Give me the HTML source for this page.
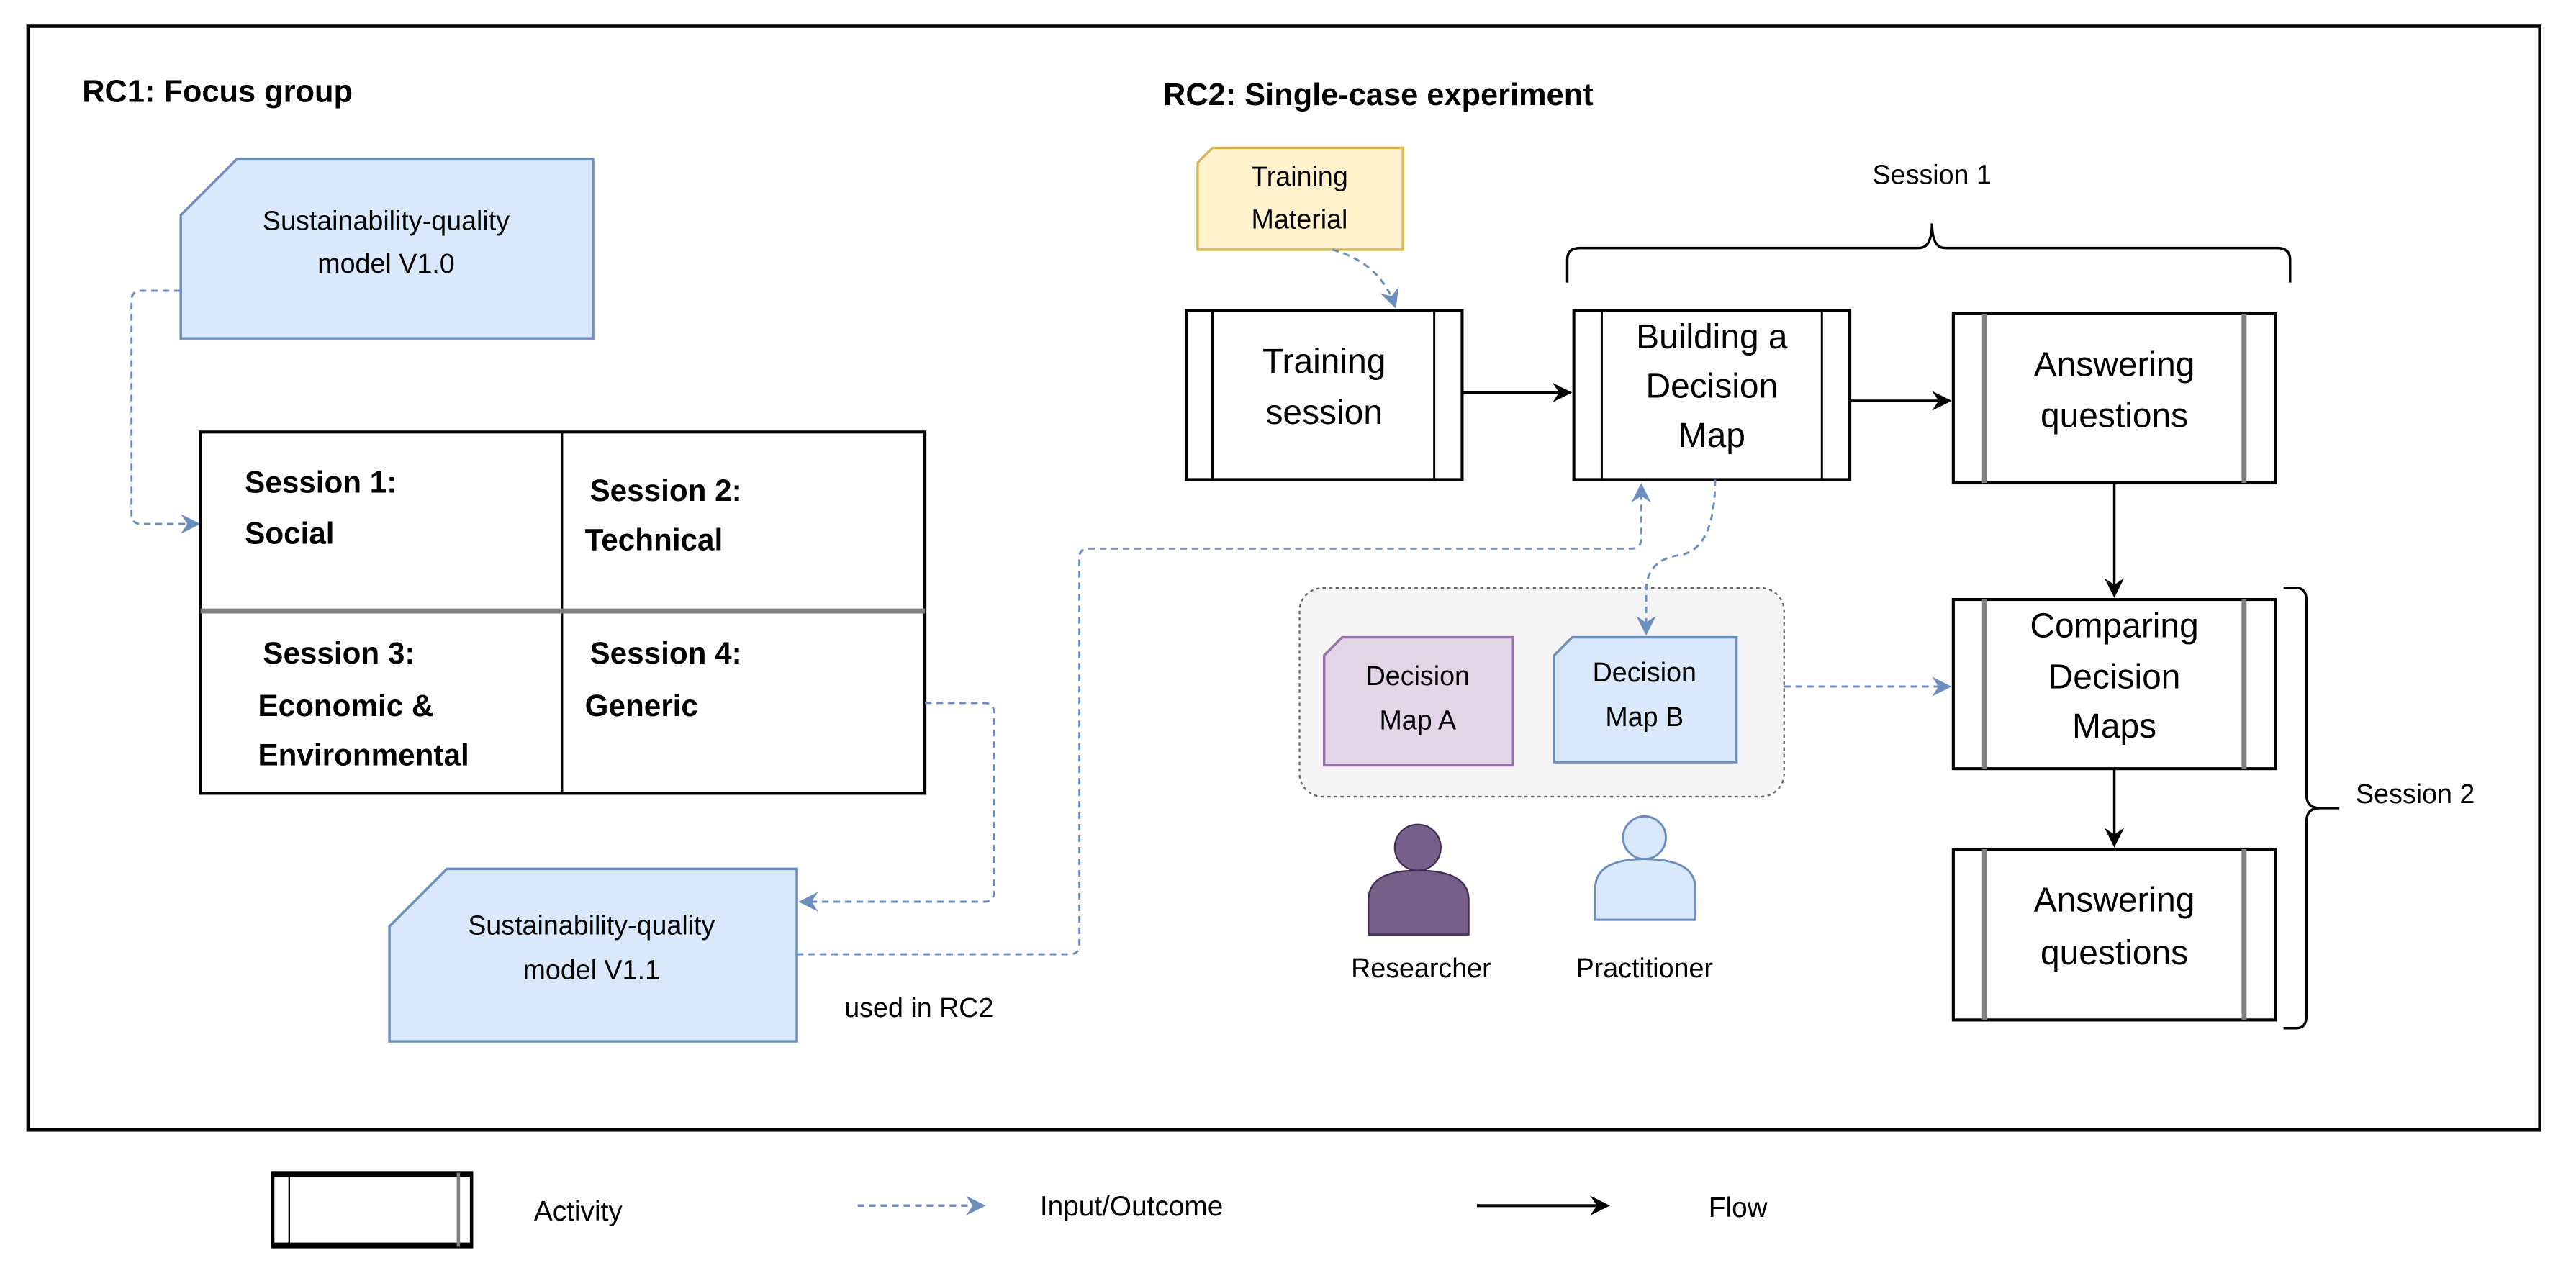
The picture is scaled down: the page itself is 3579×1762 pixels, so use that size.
<!DOCTYPE html>
<html><head><meta charset="utf-8"><style>html,body{margin:0;padding:0;background:#fff}svg{display:block}</style></head><body>
<svg width="3579" height="1762" viewBox="0 0 1568 772" xmlns="http://www.w3.org/2000/svg" font-family="'Liberation Sans', Arial, sans-serif">
<defs>
<marker id="ab" markerWidth="12" markerHeight="12" refX="10" refY="6" orient="auto" markerUnits="userSpaceOnUse"><path d="M0,0 L12,6 L0,12 L4,6 Z" fill="#6c8ebf"/></marker>
<marker id="ak" markerWidth="12" markerHeight="12" refX="10" refY="6" orient="auto" markerUnits="userSpaceOnUse"><path d="M0,0 L12,6 L0,12 L4,6 Z" fill="#000"/></marker>
</defs>
<rect x="0" y="0" width="1568" height="772" fill="#fff"/>
<rect x="17" y="16" width="1529" height="672" fill="none" stroke="#000" stroke-width="2"/>

<text x="50" y="62" font-size="19" font-weight="bold">RC1: Focus group</text>
<text x="708" y="64" font-size="19" font-weight="bold">RC2: Single-case experiment</text>

<path d="M144,97 L361,97 L361,206 L110,206 L110,131 Z" fill="#dae8fc" stroke="#6c8ebf" stroke-width="1.5"/>
<text x="235" y="140" font-size="16.5" text-anchor="middle">Sustainability-quality</text>
<text x="235" y="166" font-size="16.5" text-anchor="middle">model V1.0</text>
<path d="M110,177 L86,177 Q80,177 80,183 L80,313 Q80,319 86,319 L120,319" fill="none" stroke="#6c8ebf" stroke-width="1.3" stroke-dasharray="4,3" marker-end="url(#ab)"/>

<rect x="122" y="263" width="441" height="220" fill="#fff" stroke="#000" stroke-width="1.8"/>
<line x1="342" y1="263" x2="342" y2="483" stroke="#000" stroke-width="1.5"/>
<line x1="122" y1="372" x2="563" y2="372" stroke="#808080" stroke-width="3"/>
<g font-size="18.5" font-weight="bold">
<text x="149" y="300">Session 1:</text><text x="149" y="331">Social</text>
<text x="359" y="305">Session 2:</text><text x="356" y="335">Technical</text>
<text x="160" y="404">Session 3:</text><text x="157" y="436">Economic &amp;</text><text x="157" y="466">Environmental</text>
<text x="359" y="404">Session 4:</text><text x="356" y="436">Generic</text>
</g>
<path d="M563,428 L599,428 Q605,428 605,434 L605,543 Q605,549 599,549 L488,549" fill="none" stroke="#6c8ebf" stroke-width="1.3" stroke-dasharray="4,3" marker-end="url(#ab)"/>

<path d="M272,529 L485,529 L485,634 L237,634 L237,564 Z" fill="#dae8fc" stroke="#6c8ebf" stroke-width="1.5"/>
<text x="360" y="569" font-size="16.5" text-anchor="middle">Sustainability-quality</text>
<text x="360" y="596" font-size="16.5" text-anchor="middle">model V1.1</text>
<text x="514" y="619" font-size="16.5">used in RC2</text>
<path d="M485,581 L651,581 Q657,581 657,575 L657,339 Q657,334 663,334 L993,334 Q999,334 999,328 L999,296" fill="none" stroke="#6c8ebf" stroke-width="1.3" stroke-dasharray="4,3" marker-end="url(#ab)"/>

<path d="M738,90 L854,90 L854,152 L729,152 L729,99 Z" fill="#fff2cc" stroke="#d6b656" stroke-width="1.5"/>
<text x="791" y="113" font-size="16.5" text-anchor="middle">Training</text>
<text x="791" y="139" font-size="16.5" text-anchor="middle">Material</text>
<path d="M811,152 Q840,160 849,186" fill="none" stroke="#6c8ebf" stroke-width="1.3" stroke-dasharray="4,3" marker-end="url(#ab)"/>

<g fill="#fff" stroke="#000" stroke-width="1.8">
<rect x="722" y="189" width="168" height="103"/>
<rect x="958" y="189" width="168" height="103"/>
<rect x="1189" y="191" width="196" height="103"/>
<rect x="1189" y="365" width="196" height="103"/>
<rect x="1189" y="517" width="196" height="104"/>
</g>
<g stroke="#000" stroke-width="1.3">
<line x1="738" y1="189" x2="738" y2="292"/><line x1="873" y1="189" x2="873" y2="292"/>
<line x1="975" y1="189" x2="975" y2="292"/><line x1="1109" y1="189" x2="1109" y2="292"/>
</g>
<g stroke="#808080" stroke-width="3">
<line x1="1208" y1="191" x2="1208" y2="294"/><line x1="1366" y1="191" x2="1366" y2="294"/>
<line x1="1208" y1="365" x2="1208" y2="468"/><line x1="1366" y1="365" x2="1366" y2="468"/>
<line x1="1208" y1="517" x2="1208" y2="621"/><line x1="1366" y1="517" x2="1366" y2="621"/>
</g>
<g font-size="21" text-anchor="middle">
<text x="806" y="227">Training</text><text x="806" y="258">session</text>
<text x="1042" y="212">Building a</text><text x="1042" y="242">Decision</text><text x="1042" y="272">Map</text>
<text x="1287" y="229">Answering</text><text x="1287" y="260">questions</text>
<text x="1287" y="388">Comparing</text><text x="1287" y="419">Decision</text><text x="1287" y="449">Maps</text>
<text x="1287" y="555">Answering</text><text x="1287" y="587">questions</text>
</g>
<g stroke="#000" stroke-width="1.5" fill="none">
<line x1="890" y1="239" x2="955" y2="239" marker-end="url(#ak)"/>
<line x1="1126" y1="244" x2="1186" y2="244" marker-end="url(#ak)"/>
<line x1="1287" y1="294" x2="1287" y2="362" marker-end="url(#ak)"/>
<line x1="1287" y1="468" x2="1287" y2="514" marker-end="url(#ak)"/>
</g>

<path d="M954,172 L954,158 Q954,151 962,151 L1168,151 Q1176,151 1176,136 Q1176,151 1184,151 L1386,151 Q1394,151 1394,158 L1394,172" fill="none" stroke="#000" stroke-width="1.5"/>
<text x="1176" y="112" font-size="16.5" text-anchor="middle">Session 1</text>
<path d="M1390,358 L1398,358 Q1404,358 1404,366 L1404,484 Q1404,492 1412,492 L1424,492 M1412,492 Q1404,492 1404,500 L1404,618 Q1404,626 1398,626 L1390,626" fill="none" stroke="#000" stroke-width="1.5"/>
<text x="1434" y="489" font-size="16.5">Session 2</text>

<rect x="791" y="358" width="295" height="127" rx="14" fill="#f5f5f5" stroke="#666" stroke-width="1" stroke-dasharray="2,2"/>
<path d="M817,388 L921,388 L921,466 L806,466 L806,399 Z" fill="#e1d5e7" stroke="#9673a6" stroke-width="1.5"/>
<text x="863" y="417" font-size="16.5" text-anchor="middle">Decision</text>
<text x="863" y="444" font-size="16.5" text-anchor="middle">Map A</text>
<path d="M957,388 L1057,388 L1057,464 L946,464 L946,399 Z" fill="#dae8fc" stroke="#6c8ebf" stroke-width="1.5"/>
<text x="1001" y="415" font-size="16.5" text-anchor="middle">Decision</text>
<text x="1001" y="442" font-size="16.5" text-anchor="middle">Map B</text>
<path d="M1044,292 Q1044,335 1022,338 Q1002,341 1002,360 L1002,385" fill="none" stroke="#6c8ebf" stroke-width="1.3" stroke-dasharray="4,3" marker-end="url(#ab)"/>
<line x1="1086" y1="418" x2="1186" y2="418" stroke="#6c8ebf" stroke-width="1.3" stroke-dasharray="4,3" marker-end="url(#ab)"/>

<circle cx="863" cy="516" r="14" fill="#76608a" stroke="#432d57" stroke-width="1"/>
<path d="M833,569 L833,548 Q833,530 863,530 Q894,530 894,548 L894,569 Z" fill="#76608a" stroke="#432d57" stroke-width="1"/>
<circle cx="1001" cy="510" r="13" fill="#dae8fc" stroke="#6c8ebf" stroke-width="1.3"/>
<path d="M971,560 L971,541 Q971,523 1001,523 Q1032,523 1032,541 L1032,560 Z" fill="#dae8fc" stroke="#6c8ebf" stroke-width="1.3"/>
<text x="865" y="595" font-size="16.5" text-anchor="middle">Researcher</text>
<text x="1001" y="595" font-size="16.5" text-anchor="middle">Practitioner</text>

<rect x="166" y="714" width="121" height="45" fill="#fff" stroke="#000" stroke-width="2"/>
<line x1="166" y1="715" x2="287" y2="715" stroke="#000" stroke-width="3"/>
<line x1="166" y1="758" x2="287" y2="758" stroke="#000" stroke-width="3"/>
<line x1="176" y1="714" x2="176" y2="759" stroke="#000" stroke-width="1"/>
<line x1="279" y1="714" x2="279" y2="759" stroke="#808080" stroke-width="2"/>
<text x="325" y="743" font-size="17">Activity</text>
<line x1="522" y1="734" x2="598" y2="734" stroke="#6c8ebf" stroke-width="1.5" stroke-dasharray="4,3" marker-end="url(#ab)"/>
<text x="633" y="740" font-size="17">Input/Outcome</text>
<line x1="899" y1="734" x2="978" y2="734" stroke="#000" stroke-width="1.8" marker-end="url(#ak)"/>
<text x="1040" y="741" font-size="17">Flow</text>
</svg>
</body></html>
